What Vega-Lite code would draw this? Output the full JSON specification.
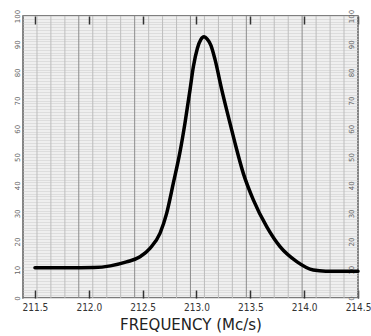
{
  "$schema": "https://vega.github.io/schema/vega-lite/v6.json",
  "width": 335,
  "height": 282,
  "autosize": "none",
  "padding": {"left": 23, "top": 16, "right": 13, "bottom": 38},
  "background": "white",
  "config": {
    "view": {"fill": "#efefef", "stroke": "#555", "strokeWidth": 1.5},
    "font": "DejaVu Sans"
  },
  "datasets": {
    "curve": [
      {"f": 211.5, "r": 10.7}, {"f": 211.8, "r": 10.7}, {"f": 212.05, "r": 10.8},
      {"f": 212.2, "r": 11.4}, {"f": 212.35, "r": 12.8}, {"f": 212.476, "r": 14.6},
      {"f": 212.568, "r": 17.6}, {"f": 212.661, "r": 22.9}, {"f": 212.723, "r": 30.0},
      {"f": 212.785, "r": 40.7}, {"f": 212.847, "r": 51.8}, {"f": 212.893, "r": 62.0},
      {"f": 212.94, "r": 73.8}, {"f": 212.971, "r": 82.0}, {"f": 213.008, "r": 88.5},
      {"f": 213.04, "r": 91.6}, {"f": 213.07, "r": 92.6}, {"f": 213.1, "r": 91.8},
      {"f": 213.135, "r": 89.5}, {"f": 213.172, "r": 84.6}, {"f": 213.234, "r": 74.0},
      {"f": 213.296, "r": 64.3}, {"f": 213.358, "r": 54.9}, {"f": 213.435, "r": 44.2},
      {"f": 213.528, "r": 34.8}, {"f": 213.652, "r": 25.3}, {"f": 213.776, "r": 18.2},
      {"f": 213.931, "r": 12.9}, {"f": 214.085, "r": 9.9}, {"f": 214.2, "r": 9.5},
      {"f": 214.5, "r": 9.5}
    ],
    "vgrid": [
      {"g": 211.389, "major": true}, {"g": 211.519, "major": false}, {"g": 211.648, "major": false}, {"g": 211.778, "major": false},
      {"g": 211.907, "major": true}, {"g": 212.037, "major": false}, {"g": 212.167, "major": false}, {"g": 212.296, "major": false},
      {"g": 212.426, "major": true}, {"g": 212.556, "major": false}, {"g": 212.685, "major": false}, {"g": 212.815, "major": false},
      {"g": 212.944, "major": true}, {"g": 213.074, "major": false}, {"g": 213.204, "major": false}, {"g": 213.333, "major": false},
      {"g": 213.463, "major": true}, {"g": 213.593, "major": false}, {"g": 213.722, "major": false}, {"g": 213.852, "major": false},
      {"g": 213.981, "major": true}, {"g": 214.111, "major": false}, {"g": 214.241, "major": false}, {"g": 214.37, "major": false},
      {"g": 214.5, "major": true}
    ]
  },
  "layer": [
    {
      "data": {"name": "vgrid"},
      "mark": {"type": "rule", "strokeWidth": 1},
      "encoding": {
        "x": {"field": "g", "type": "quantitative", "scale": {"domain": [211.389, 214.5], "nice": false, "zero": false}, "axis": null},
        "color": {"condition": {"test": "datum.major", "value": "#8c8c8c"}, "value": "#bdbdbd"}
      }
    },
    {
      "data": {"name": "curve"},
      "mark": {"type": "line", "color": "black", "strokeWidth": 3.5, "interpolate": "monotone", "strokeCap": "round", "strokeJoin": "round"},
      "encoding": {
        "x": {
          "field": "f", "type": "quantitative",
          "scale": {"domain": [211.389, 214.5], "nice": false, "zero": false},
          "axis": {
            "orient": "bottom",
            "values": [211.5, 212.0, 212.5, 213.0, 213.5, 214.0, 214.5],
            "format": ".1f",
            "grid": false, "domain": false,
            "tickSize": -8, "tickColor": "#333", "tickWidth": 1.5,
            "labelFont": "Liberation Sans Narrow, DejaVu Sans Condensed, sans-serif",
            "labelFontSize": 10, "labelColor": "#333", "labelPadding": 12,
            "labelFlush": false, "labelOverlap": false,
            "title": "FREQUENCY (Mc/s)",
            "titleFont": "DejaVu Sans", "titleFontSize": 15, "titleFontWeight": "normal",
            "titleColor": "#222", "titlePadding": 5
          }
        },
        "y": {
          "field": "r", "type": "quantitative",
          "scale": {"domain": [0, 100], "nice": false, "zero": true},
          "axis": {
            "orient": "left",
            "values": [0,1,2,3,4,5,6,7,8,9,10,11,12,13,14,15,16,17,18,19,20,21,22,23,24,25,26,27,28,29,30,31,32,33,34,35,36,37,38,39,40,41,42,43,44,45,46,47,48,49,50,51,52,53,54,55,56,57,58,59,60,61,62,63,64,65,66,67,68,69,70,71,72,73,74,75,76,77,78,79,80,81,82,83,84,85,86,87,88,89,90,91,92,93,94,95,96,97,98,99,100],
            "grid": true,
            "encode": {"grid": {"update": {"stroke": {"signal": "datum.value % 10 === 0 ? '#8c8c8c' : (datum.value % 5 === 0 ? '#b3b3b3' : '#e6e6e6')"}}}},
            "ticks": false, "domain": false,
            "labelExpr": "datum.value % 10 === 0 ? datum.label : ''",
            "labelAngle": -90, "labelAlign": "center", "labelBaseline": "bottom",
            "labelPadding": 3, "labelFontSize": 7, "labelColor": "#666",
            "labelFlush": false, "labelOverlap": false,
            "title": null
          }
        }
      }
    },
    {
      "data": {"name": "curve"},
      "mark": {"type": "line", "opacity": 0},
      "encoding": {
        "x": {
          "field": "f", "type": "quantitative",
          "scale": {"domain": [211.389, 214.5], "nice": false, "zero": false},
          "axis": {
            "orient": "top",
            "values": [211.5, 212.0, 212.5, 213.0, 213.5, 214.0, 214.5],
            "grid": false, "domain": false, "labels": false,
            "tickSize": -8, "tickColor": "#333", "tickWidth": 1.5,
            "title": null
          }
        },
        "y": {
          "field": "r", "type": "quantitative",
          "scale": {"domain": [0, 100], "nice": false, "zero": true},
          "axis": {
            "orient": "right",
            "values": [0, 10, 20, 30, 40, 50, 60, 70, 80, 90, 100],
            "grid": false, "ticks": false, "domain": false,
            "labelAngle": -90, "labelAlign": "center", "labelBaseline": "bottom",
            "labelPadding": -4, "labelFontSize": 7, "labelColor": "#666",
            "labelFlush": false, "labelOverlap": false,
            "title": null
          }
        }
      }
    }
  ],
  "resolve": {"axis": {"x": "independent", "y": "independent"}}
}
